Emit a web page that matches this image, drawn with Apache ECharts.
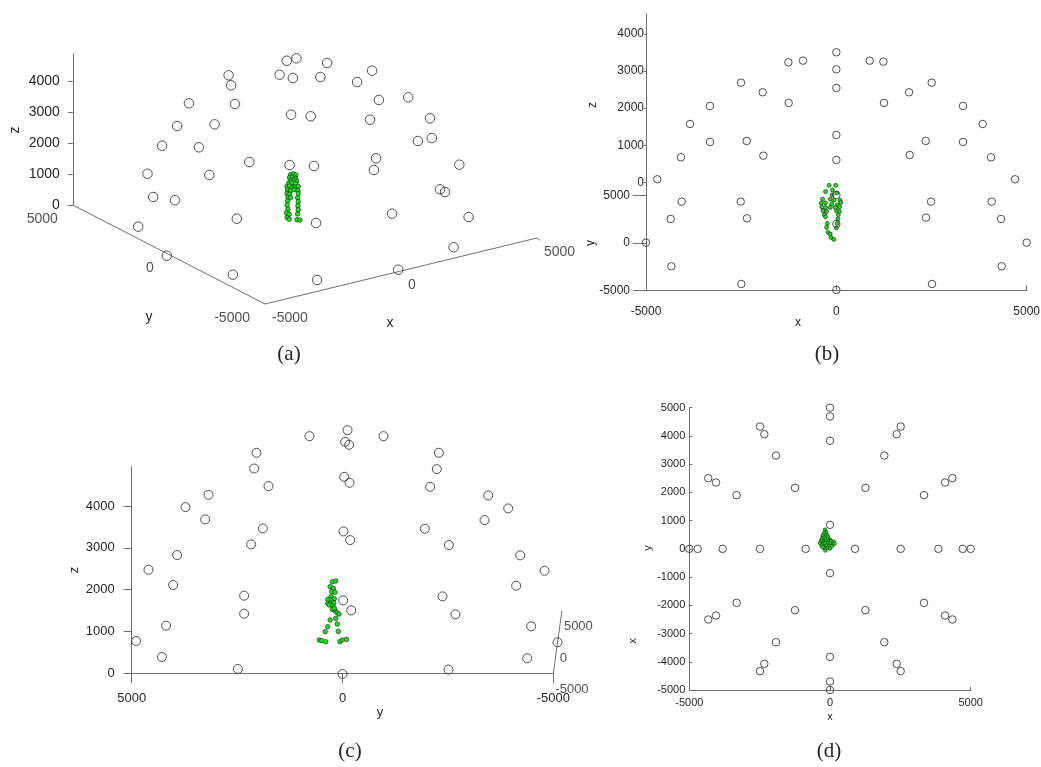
<!DOCTYPE html>
<html><head><meta charset="utf-8">
<script src="https://cdn.jsdelivr.net/npm/echarts@6/dist/echarts.min.js"></script>
<style>html,body{margin:0;padding:0;background:#fff}#c{width:1041px;height:767px}</style>
</head><body><div id="c"></div><script>
// ---------------- DATA ----------------
// (a) oblique 3-D view: [horizontal, vertical] in z-axis units of the projection plane
const aCircles = [[6914,4662],[7225,4740],[8217,4588],[6682,4210],[7111,4103],[8000,4136],[9671,4339],[9186,3974],[5034,4191],[5115,3867],[5241,3263],[3751,3286],[4582,2607],[3370,2553],[2885,1916],[4074,1864],[2414,1011],[4410,969],[2598,258],[3302,152],[2113,-701],[3037,-1638],[5299,-443],[5173,-2252],[5703,1389],[7053,2918],[7687,2866],[7005,1292],[7790,1260],[7861,-582],[7893,-2423],[9890,3393],[10837,3480],[9603,2756],[11541,2801],[11150,2068],[11599,2165],[9800,1509],[9729,1131],[12488,1302],[11864,507],[12026,420],[10317,-281],[12788,-388],[12304,-1367],[10514,-2090]];
const aGreen = [[7037,979],[7132,1006],[7207,970],[6999,881],[7094,899],[7189,863],[7046,792],[7160,810],[7236,774],[6971,702],[7075,720],[7189,693],[6923,595],[6999,613],[7084,559],[7179,577],[7283,604],[6942,488],[7037,461],[7151,497],[7274,470],[6923,372],[6999,345],[7283,372],[6952,255],[7037,238],[7264,238],[6942,130],[7283,112],[6923,-4],[7274,-22],[6952,-138],[7283,-156],[6904,-254],[6990,-299],[7264,-290],[6923,-406],[6990,-460],[7245,-477],[7340,-486]];
const aZTicks = [0,1000,2000,3000,4000];
const aYTicks = [5000,0,-5000];
const aXTicks = [-5000,0,5000];

// (b) front view: [x, vertical in z units]
const bCircles = [[0,3504],[-1261,3235],[-876,3279],[876,3279],[1235,3252],[0,3046],[0,2543],[-2504,2686],[2504,2686],[-1935,2426],[1909,2426],[-1252,2138],[1252,2138],[-3319,2058],[3327,2058],[-3844,1572],[3844,1572],[-3319,1087],[3327,1087],[-2356,1114],[2347,1114],[0,1276],[-4081,674],[4063,674],[-1918,719],[1926,737],[0,602],[-4702,81],[4694,81],[-4063,-521],[4081,-521],[-2513,-521],[2487,-521],[-4352,-988],[4326,-988],[-2347,-970],[2356,-952],[0,-1123],[-5000,-1626],[5000,-1626],[-4334,-2264],[4343,-2264],[-2496,-2740],[2513,-2740],[0,-2902],[0,-342]];
const bGreen = [[-189,-81],[-18,-81],[-284,-251],[-102,-205],[11,-286],[-113,-340],[-362,-455],[-160,-455],[-66,-483],[97,-483],[-399,-563],[-284,-555],[-123,-590],[21,-609],[116,-545],[-381,-663],[-284,-679],[-160,-679],[-26,-679],[87,-663],[-352,-768],[-257,-787],[3,-768],[79,-787],[-313,-876],[-284,-930],[50,-876],[39,-992],[-236,-1110],[21,-1110],[-257,-1216],[3,-1234],[-218,-1350],[-160,-1396],[-142,-1485],[-66,-1539]];
const bZTicks = [0,1000,2000,3000,4000];
const bYTicks = [-5000,0,5000];
const bXTicks = [-5000,0,5000];

// (c) side view: [y, z]
const cCircles = [[-119,5817],[783,5673],[-972,5673],[-63,5538],[-158,5466],[2040,5275],[-2285,5275],[2095,4900],[-2237,4884],[1755,4478],[-2079,4462],[-40,4701],[-166,4558],[3178,4271],[-3455,4255],[3723,3976],[-3929,3944],[3257,3681],[-3368,3665],[1889,3466],[-1953,3458],[-24,3394],[-182,3187],[2166,3084],[-2522,3068],[3921,2829],[-4213,2821],[4601,2478],[-4791,2454],[4016,2112],[-4119,2096],[2332,1857],[-2372,1841],[-16,1745],[-206,1506],[2332,1426],[-2680,1410],[4182,1139],[-4474,1124],[4893,773],[-5099,741],[4285,390],[-4379,359],[2482,104],[-2514,88],[0,-16]];
const cGreen = [[240,2191],[161,2208],[294,2072],[216,2033],[256,1952],[178,1938],[270,1833],[349,1770],[256,1754],[194,1785],[349,1675],[270,1675],[209,1689],[318,1634],[225,1610],[240,1531],[178,1498],[130,1450],[83,1419],[194,1555],[294,1275],[161,1313],[123,1179],[349,1115],[410,995],[99,1002],[552,797],[491,780],[396,756],[62,756],[7,797],[-95,811]];
const cZTicks = [0,1000,2000,3000,4000];
const cYTicks = [5000,0,-5000];
const cXTicks = [-5000,0,5000];

// (d) top view: [x, y]
const dCircles = [[-5000,0],[-4704,0],[-3815,0],[-2488,0],[-865,0],[889,0],[2512,0],[3851,0],[4716,0],[5000,0],
 [0,5000],[0,4690],[0,3830],[0,850],[-2488,4333],[-2334,4061],[-1919,3306],[-1244,2161],[-4325,2503],[-4052,2350],[-3318,1901],
 [2512,4333],[2370,4061],[1931,3306],[1256,2161],[4348,2503],[4088,2350],[3341,1901],
 [0,-862],[0,-3825],[0,-4699],[0,-5000],[-3318,-1913],[-4325,-2503],[-4052,-2361],[-1244,-2172],[-1919,-3306],[-2488,-4333],[-2334,-4073],
 [3341,-1913],[4348,-2503],[4088,-2361],[1256,-2172],[1931,-3306],[2512,-4333],[2370,-4073]];
const dGreen = [[-178,675],[-143,608],[-213,552],[-120,519],[-259,475],[-166,441],[-73,441],[-282,386],[-189,363],[-97,363],[-4,330],[-317,297],[-224,274],[-143,297],[-50,274],[37,274],[135,252],[-352,208],[-259,185],[-166,208],[-73,208],[19,185],[112,163],[-305,119],[-213,108],[-120,119],[-27,97],[66,97],[159,185],[-189,30],[-85,30],[-4,8],[-166,-59],[-259,52]];
const dXTicks = [-5000,0,5000];
const dYTicks = [-5000,-4000,-3000,-2000,-1000,0,1000,2000,3000,4000,5000];

const captions = ['(a)','(b)','(c)','(d)'];

// ---------------- STYLE / LAYOUT ----------------
const FONT = '"Liberation Sans", Arial, Helvetica, sans-serif';
const TXT = '#262626', AX = '#6f6f6f', CIRC = '#3a3a3a', GREEN = '#1be21b', GEDGE = '#1a1a1a';

// panel (a) projection frame
const A = {ox:72.8, oy:205, k:0.03095, h:[-2000,16000], v:[-4000,5000], zTop:4879,
  yFrom:[0,0], corner:[6210,-3199], xTo:[14998,-1066], xTick:[15105,-1140]};
// panel (b)
const B = {left:646, width:380.7, top:14, zero:182.3, bottom:290.3, kz:0.0371, ky:0.00946};
// panel (c)
const C = {ox:342.5, oy:673.3, kx:0.04217, kz:0.0418, zTop:4943, oblFrom:[-5000,0], oblTo:[-5203,1498]};
// panel (d)
const D = {left:689.3, width:281.4, top:407.7, height:282.3};

function lerp(p, q, t){ return [p[0]+(q[0]-p[0])*t, p[1]+(q[1]-p[1])*t]; }
const fmt = v => String(v);

const grids = [
  // 0: (a) hidden projection frame
  {left:A.ox + A.h[0]*A.k, width:(A.h[1]-A.h[0])*A.k, top:A.oy - A.v[1]*A.k, height:(A.v[1]-A.v[0])*A.k},
  // 1: (a) z axis
  {left:A.ox, width:40, top:A.oy - A.zTop*A.k, height:A.zTop*A.k},
  // 2: (b) hidden frame
  {left:B.left, width:B.width, top:B.top, height:B.bottom-B.top},
  // 3: (b) z part of left axis
  {left:B.left, width:B.width, top:B.top, height:B.zero-B.top},
  // 4: (b) y part of left axis + x axis
  {left:B.left, width:B.width, top:B.zero, height:B.bottom-B.zero},
  // 5: (c) visible axes
  {left:C.ox - 5000*C.kx, width:10000*C.kx, top:C.oy - C.zTop*C.kz, height:C.zTop*C.kz},
  // 6: (c) hidden frame
  {left:C.ox - 5500*C.kx, width:11000*C.kx, top:C.oy - 6200*C.kz, height:6700*C.kz},
  // 7: (d)
  {left:D.left, width:D.width, top:D.top, height:D.height}
].map(g => Object.assign({containLabel:false, outerBoundsMode:'none', show:false}, g));

const hidden = (min, max, extra) => Object.assign({type:'value', min, max, show:false, splitLine:{show:false}}, extra||{});
function vis(min, max, ticks, o){
  return Object.assign({
    type:'value', min, max, splitLine:{show:false},
    axisLine:{show:true, onZero:false, lineStyle:{color:AX, width:1}},
    axisTick:{show:true, inside:!!o.inside, length:o.tl, customValues:ticks, lineStyle:{color:AX, width:1}},
    axisLabel:{show:o.label!==false, margin:o.margin, customValues:ticks, color:TXT, fontFamily:FONT, fontSize:o.fs,
      formatter: v => (ticks.indexOf(v) >= 0 ? fmt(v) : ''), showMaxLabel: true, showMinLabel: true}
  }, o.extra||{});
}

const bYTop = 5000 + (B.bottom - B.zero)/B.ky - 10000; // y value at top of the y part
const xAxes = [
  hidden(A.h[0], A.h[1]),
  hidden(0, 1),
  hidden(-5000, 5000),
  hidden(-5000, 5000),
  vis(-5000, 5000, bXTicks, {tl:5, inside:true, margin:15, fs:12}),
  vis(-5000, 5000, cYTicks, {tl:10, margin:19, fs:13, extra:{inverse:true}}),
  hidden(-5500, 5500, {inverse:true}),
  vis(-5000, 5000, dXTicks, {tl:3, inside:true, margin:7, fs:11})
];
const yAxes = [
  hidden(A.v[0], A.v[1]),
  vis(0, A.zTop, aZTicks, {tl:5, margin:13, fs:14}),
  hidden(-(B.bottom-B.zero)/B.kz, (B.zero-B.top)/B.kz),
  vis(0, (B.zero-B.top)/B.kz, bZTicks, {tl:2, margin:2, fs:12}),
  vis(-5000, 5000 + (B.bottom-B.zero)/B.ky - 10000 + 0, bYTicks, {tl:13, margin:16, fs:12}),
  vis(0, C.zTop, cZTicks, {tl:8, margin:17, fs:13}),
  hidden(-500, 6200),
  vis(-5000, 5000, dYTicks, {tl:3, inside:true, margin:4, fs:11})
];
xAxes.forEach((a,i)=>a.gridIndex=i);
yAxes.forEach((a,i)=>a.gridIndex=i);

function circles(data, idx, size){
  return {type:'scatter', xAxisIndex:idx, yAxisIndex:idx, data, symbol:'circle', symbolSize:size, clip:false, silent:true, z:4,
    itemStyle:{color:'rgba(0,0,0,0)', borderColor:CIRC, borderWidth:0.9, opacity:1}};
}
function greens(data, idx, size){
  return {type:'scatter', xAxisIndex:idx, yAxisIndex:idx, data, symbol:'circle', symbolSize:size, clip:false, silent:true, z:3,
    itemStyle:{color:GREEN, borderColor:GEDGE, borderWidth:0.6, opacity:1}};
}
function polyline(data, idx){
  return {type:'line', xAxisIndex:idx, yAxisIndex:idx, data, symbol:'none', clip:false, silent:true, z:2,
    lineStyle:{color:AX, width:1}};
}
function tickLabels(data, idx, pos, off, fs){
  return {type:'scatter', xAxisIndex:idx, yAxisIndex:idx, data, symbolSize:0, clip:false, silent:true, z:5,
    label:{show:true, position:pos, distance:0, offset:off, formatter:p=>p.value[2], color:TXT, fontFamily:FONT, fontSize:fs}};
}
const empty = idx => ({type:'scatter', xAxisIndex:idx, yAxisIndex:idx, data:[], silent:true});

// oblique axis tick-label anchors, interpolated along the drawn axes
const aYLab = aYTicks.map(v => lerp(A.yFrom, A.corner, (5000 - v)/10000).concat(fmt(v)));
const aXLab = aXTicks.map(v => lerp(A.corner, A.xTo, (v + 5000)/10000).concat(fmt(v)));
const cXLab = cXTicks.map(v => lerp(C.oblFrom, C.oblTo, (v + 5000)/10000).concat(fmt(v)));

const series = [
  greens(aGreen, 0, 4.6), circles(aCircles, 0, 9.5),
  polyline([A.yFrom, A.corner, A.xTo, A.xTick], 0),
  tickLabels(aYLab, 0, 'left', [-15, 14], 14),
  tickLabels(aXLab, 0, 'right', [7, 14], 14),
  empty(1),
  greens(bGreen, 2, 4), circles(bCircles, 2, 7.5),
  empty(3), empty(4),
  empty(5),
  greens(cGreen, 6, 4.6), circles(cCircles, 6, 9),
  polyline([C.oblFrom, C.oblTo], 6),
  tickLabels(cXLab, 6, 'right', [2, 16], 13),
  greens(dGreen, 7, 3.6), circles(dCircles, 7, 7.5)
];

function txt(s, x, y, fs, rot, family){
  return {type:'text', x, y, rotation: rot ? Math.PI/2 : 0, silent:true, z:10,
    style:{text:s, fontSize:fs, fontFamily:family||FONT, fill:TXT, align:'center', verticalAlign:'middle',
      textAlign:'center', textVerticalAlign:'middle'}};
}
const SERIF = '"Liberation Serif", "DejaVu Serif", serif';
const graphic = [
  txt('z', 15, 130, 14, true), txt('y', 149, 317, 14), txt('x', 390, 323, 14),
  txt('z', 593, 105, 12, true), txt('y', 591, 243, 12, true), txt('x', 798, 323, 12),
  txt('z', 74, 570, 13, true), txt('y', 380, 712, 13),
  txt('y', 648, 548, 11, true), txt('x', 633, 641, 11, true), txt('x', 830, 717, 11),
  txt(captions[0], 289, 354, 21, false, SERIF), txt(captions[1], 827, 354, 21, false, SERIF),
  txt(captions[2], 350, 751, 21, false, SERIF), txt(captions[3], 829, 751, 21, false, SERIF)
];

const chart = echarts.init(document.getElementById('c'), null, {renderer:'canvas'});
chart.setOption({
  animation:false, backgroundColor:'#ffffff',
  grid:grids, xAxis:xAxes, yAxis:yAxes, series, graphic
});
</script></body></html>
